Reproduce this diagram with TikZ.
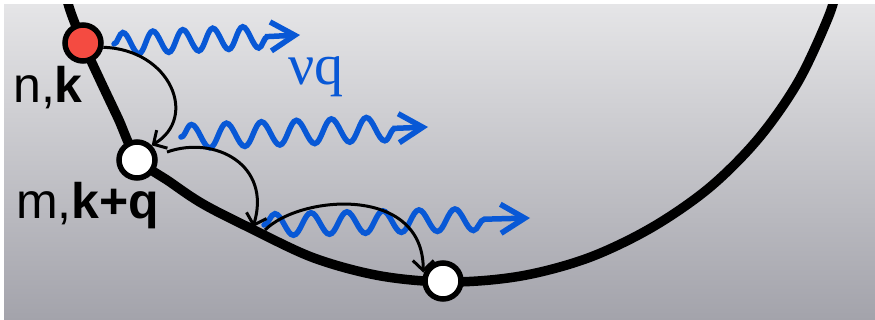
\documentclass[tikz,border=0pt]{standalone}
\usepackage{fontspec}
\setmainfont{Liberation Sans}
\newfontfamily\serifnu{Liberation Serif}
\usetikzlibrary{arrows.meta,decorations.pathmorphing}
\definecolor{waveblue}{RGB}{8,88,214}
\definecolor{nodered}{RGB}{244,75,65}
\definecolor{bgtop}{RGB}{229,229,231}
\definecolor{bgbot}{RGB}{163,163,171}
\begin{document}
\begin{tikzpicture}[x=1pt,y=-1pt,
  state/.style={circle, draw=black, line width=5.5pt, minimum size=36pt, inner sep=0pt},
  hop/.style={line width=3pt, -{Straight Barb[length=10pt,width=21pt,line width=3pt]}},
  phonon/.style n args={2}{draw=waveblue, line width=5.5pt, line cap=round,
    -{Straight Barb[length=24pt,width=29pt,line width=5.5pt]},
    decorate, decoration={snake, segment length=#1, amplitude=#2, post length=28pt}},
  lbl/.style={anchor=base west, inner sep=0pt, font=\fontsize{50}{54}\selectfont}
  ]
\useasboundingbox (0,0) rectangle (875,320);
\shade[top color=bgtop, bottom color=bgbot] (4,5) rectangle (875,320);
\begin{scope}
  \clip (4,5) rectangle (875,320);
  \draw[line width=9.5pt, line join=round] plot[smooth, tension=0.55] coordinates {
    (845,-40) (838,-15) (828,18) (798,82) (758,139) (709,188) (651,228) (588,258)
    (521,276) (451,282) (381,276) (314,258) (250,228) (203,204) (170,182)
    (137,158) (118,118) (100,80) (83,43) (70,10) (62,-20)};
\end{scope}
\node[state, fill=nodered] (nk) at (83,43) {};
\node[state, fill=white] (mk) at (137,160) {};
\node[state, fill=white] (mq) at (443,281) {};
\node[lbl] (lnk) at (13,103) {n,\textbf{k}};
\node[lbl] (lmk) at (16,219) {m,\textbf{k+q}};
\node[anchor=base west, inner sep=0pt, text=waveblue, font=\serifnu\fontsize{58}{60}\selectfont] (lnu) at (288,85) {νq};
\coordinate (w1s) at (114,44); \coordinate (w1e) at (300,35);
\coordinate (w2s) at (181,137); \coordinate (w2e) at (428,127);
\coordinate (w3s) at (264,225); \coordinate (w3e) at (530,218);
\draw[phonon={30pt}{11pt}] (w1s) -- (w1e);
\draw[phonon={35pt}{12pt}] (w2s) -- (w2e);
\draw[phonon={36pt}{11pt}] (w3s) -- (w3e);
\coordinate (b1) at (167,152); \coordinate (b2) at (253,227);
\coordinate (c1) at (265,230);
\draw[hop] (nk.-12) .. controls +(67,2) and +(47,-28) .. (mk.45);
\draw[hop] (b1) .. controls +(48,-17) and +(19,-62) .. (b2);
\draw[hop, shorten >=2pt] (c1) .. controls +(35,-35) and +(0,-90) .. (mq.162);
\end{tikzpicture}
\end{document}
